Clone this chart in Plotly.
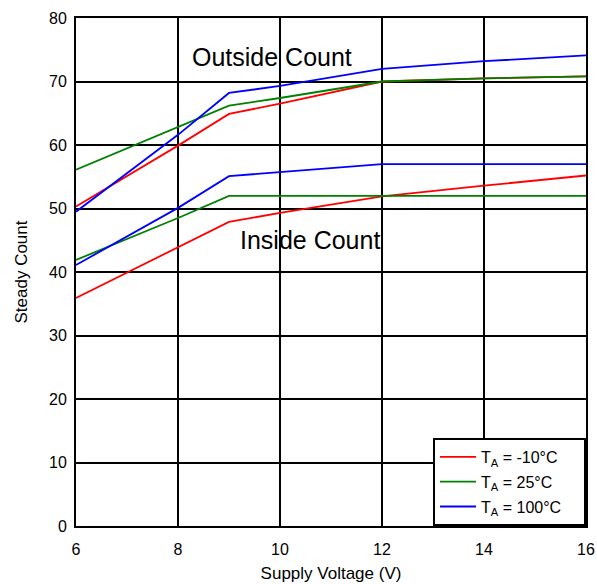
import plotly.graph_objects as go

voltage = [6, 8, 9, 10, 12, 14, 16]

out_m10 = [50.3, 59.9, 64.9, 66.5, 70.0, 70.5, 70.8]
out_25 = [56.1, 62.8, 66.2, 67.4, 70.0, 70.5, 70.8]
out_100 = [49.5, 61.6, 68.2, 69.3, 72.0, 73.2, 74.1]

in_m10 = [35.9, 43.9, 47.9, 49.3, 51.9, 53.6, 55.2]
in_25 = [41.9, 48.5, 52.0, 52.0, 52.0, 52.0, 52.0]
in_100 = [41.1, 50.1, 55.1, 55.7, 57.0, 57.0, 57.0]

labels = ["T<sub>A</sub> = -10°C    ", "T<sub>A</sub> = 25°C    ", "T<sub>A</sub> = 100°C    "]
colors = ["#ff0000", "#008000", "#0000ff"]

fig = go.Figure()
for i, (o, n) in enumerate([(out_m10, in_m10), (out_25, in_25), (out_100, in_100)]):
    fig.add_trace(go.Scatter(x=voltage, y=o, mode="lines", name=labels[i],
                             line=dict(color=colors[i], width=1.8), legendgroup=str(i)))
    fig.add_trace(go.Scatter(x=voltage, y=n, mode="lines", name=labels[i],
                             line=dict(color=colors[i], width=1.8), legendgroup=str(i),
                             showlegend=False))

fig.add_annotation(x=9.84, y=73.9, text="Outside Count", showarrow=False,
                   font=dict(size=25, color="black", family="Liberation Sans"))
fig.add_annotation(x=10.59, y=45.0, text="Inside Count", showarrow=False,
                   font=dict(size=25, color="black", family="Liberation Sans"))

fig.update_layout(
    width=597, height=584, autosize=False,
    margin=dict(l=76, r=11, t=18, b=58, pad=0, autoexpand=False),
    paper_bgcolor="white", plot_bgcolor="white",
    font=dict(family="Liberation Sans", size=15, color="black"),
    showlegend=True,
    legend=dict(x=1, y=0, xanchor="right", yanchor="bottom",
                bordercolor="black", borderwidth=2, bgcolor="white",
                font=dict(size=16, family="Liberation Sans"),
                tracegroupgap=1, itemwidth=36),
    xaxis=dict(range=[6, 16], tickvals=[6, 8, 10, 12, 14, 16],
               showgrid=True, gridcolor="black", gridwidth=2,
               showline=True, linecolor="black", linewidth=2, mirror=True,
               zeroline=False, ticks="", ticklabelstandoff=8, automargin=False,
               title=dict(text="Supply Voltage (V)", font=dict(size=17), standoff=10),
               tickfont=dict(size=16)),
    yaxis=dict(range=[0, 80], tickvals=list(range(0, 81, 10)),
               showgrid=True, gridcolor="black", gridwidth=2,
               showline=True, linecolor="black", linewidth=2, mirror=True,
               zeroline=False, ticks="", ticklabelstandoff=4, automargin=False,
               title=dict(text="Steady Count", font=dict(size=17), standoff=17),
               tickfont=dict(size=16)),
)

fig.write_html("out.html", config={"displayModeBar": False, "responsive": False},
               post_script="document.body.style.margin='0';")
